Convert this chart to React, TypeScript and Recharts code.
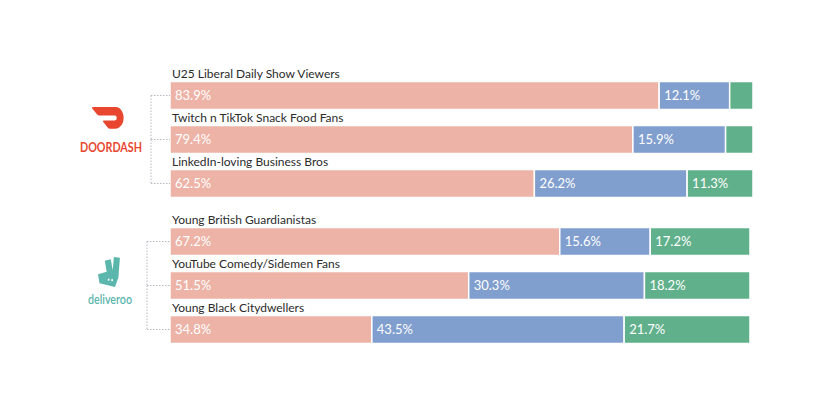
import React from 'react';
import { BarChart, Bar, XAxis, YAxis, LabelList } from 'recharts';

// Audience share split per brand group (pink / blue / green segments)
const doordashRows = [
  'U25 Liberal Daily Show Viewers',
  'Twitch n TikTok Snack Food Fans',
  'LinkedIn-loving Business Bros',
];
const doordashPink = [83.9, 79.4, 62.5];
const doordashBlue = [12.1, 15.9, 26.2];
const doordashGreen = [4.0, 4.7, 11.3];

const deliverooRows = [
  'Young British Guardianistas',
  'YouTube Comedy/Sidemen Fans',
  'Young Black Citydwellers',
];
const deliverooPink = [67.2, 51.5, 34.8];
const deliverooBlue = [15.6, 30.3, 43.5];
const deliverooGreen = [17.2, 18.2, 21.7];

const PINK = '#ECB3A6';
const BLUE = '#809ECE';
const GREEN = '#5FB08B';
const FONT = 'Lato, "Noto Sans", sans-serif';

const BAND = 44;

const buildRows = (names: string[], pink: number[], blue: number[], green: number[]) =>
  names.map((name, i) => ({ name, pink: pink[i], blue: blue[i], green: green[i] }));

const doordashData = buildRows(doordashRows, doordashPink, doordashBlue, doordashGreen);
const deliverooData = buildRows(deliverooRows, deliverooPink, deliverooBlue, deliverooGreen);

const pct = (v: any) => (Number(v) < 5 ? '' : `${Number(v).toFixed(1)}%`);

const BracketTick = ({ y, payload, index, lineX, count, barX }: any) => (
  <g>
    <line x1={lineX} x2={barX} y1={y} y2={y} stroke="#b4b8c0" strokeDasharray="1.5 1.5" />
    {index < count - 1 && (
      <line x1={lineX} x2={lineX} y1={y} y2={y + BAND} stroke="#b4b8c0" strokeDasharray="1.5 1.5" />
    )}
    <text x={barX + 2} y={y - 17.5} fontSize={12} fill="#2b2b2b" fontFamily={FONT}>
      {payload.value}
    </text>
  </g>
);

const GroupChart = ({ data, top, left, axisWidth, right }: any) => (
  <div style={{ position: 'absolute', top, left: 0 }}>
    <BarChart
      width={840}
      height={220}
      data={data}
      layout="vertical"
      margin={{ top: 73.5, right, bottom: 14.5, left }}
    >
      <XAxis type="number" domain={[0, 100]} hide />
      <YAxis
        type="category"
        dataKey="name"
        width={axisWidth}
        axisLine={false}
        tickLine={false}
        tick={(props: any) => (
          <BracketTick {...props} lineX={left + 1} barX={left + axisWidth} count={data.length} />
        )}
      />
      {[
        ['pink', PINK],
        ['blue', BLUE],
        ['green', GREEN],
      ].map(([key, color]) => (
        <Bar
          key={key}
          dataKey={key}
          stackId="a"
          fill={color}
          stroke="#fff"
          strokeWidth={1.5}
          barSize={28}
          isAnimationActive={false}
        >
          <LabelList
            dataKey={key}
            position="insideLeft"
            formatter={pct}
            fill="#fff"
            fontSize={13}
            fontFamily={FONT}
          />
        </Bar>
      ))}
    </BarChart>
  </div>
);

const Logos = () => (
  <svg width={840} height={400} style={{ position: 'absolute', top: 0, left: 0 }}>
    <g transform="translate(92,107) scale(1.32,1.6) translate(0,-5.18)">
      <path
        fill="#E9462F"
        d="M23.071 8.409a6.09 6.09 0 00-5.396-3.228H.584A.589.589 0 00.17 6.184L3.894 9.93a1.752 1.752 0 001.242.516h12.049a1.554 1.554 0 11.031 3.108H8.91a.589.589 0 00-.415 1.003l3.725 3.747a1.75 1.75 0 001.242.516h3.757c4.887 0 8.584-5.225 5.852-10.413"
      />
    </g>
    <text
      x={80}
      y={152}
      fontSize={13}
      fontWeight={700}
      fill="#E9462F"
      fontFamily={FONT}
      textLength={62}
      lengthAdjust="spacingAndGlyphs"
    >
      DOORDASH
    </text>
    <g transform="translate(97,257) scale(1.0,1.25)">
      <path
        fill="#5BB6AC"
        d="M16.9 0 L15.7 10.6 L13.8 1.7 L7.8 2.9 L9.7 11.8 L1 13.7 L2.5 20.9 L18 24 L21.4 16.3 L22.9 0.6 Z"
      />
      <rect x={10.8} y={17.2} width={1.8} height={1.8} rx={0.8} fill="#fff" />
      <rect x={14.2} y={17.5} width={1.8} height={1.8} rx={0.8} fill="#fff" />
    </g>
    <text
      x={88}
      y={304}
      fontSize={13}
      fontWeight={600}
      fill="#5BB6AC"
      fontFamily={FONT}
      textLength={44}
      lengthAdjust="spacingAndGlyphs"
    >
      deliveroo
    </text>
  </svg>
);

export default function App() {
  return (
    <div
      style={{
        position: 'fixed',
        top: 0,
        left: 0,
        width: 840,
        height: 400,
        background: '#fff',
        overflow: 'hidden',
      }}
    >
      <GroupChart data={doordashData} top={0} left={150} axisWidth={20} right={87} />
      <GroupChart data={deliverooData} top={146} left={146} axisWidth={24} right={90} />
      <Logos />
    </div>
  );
}
